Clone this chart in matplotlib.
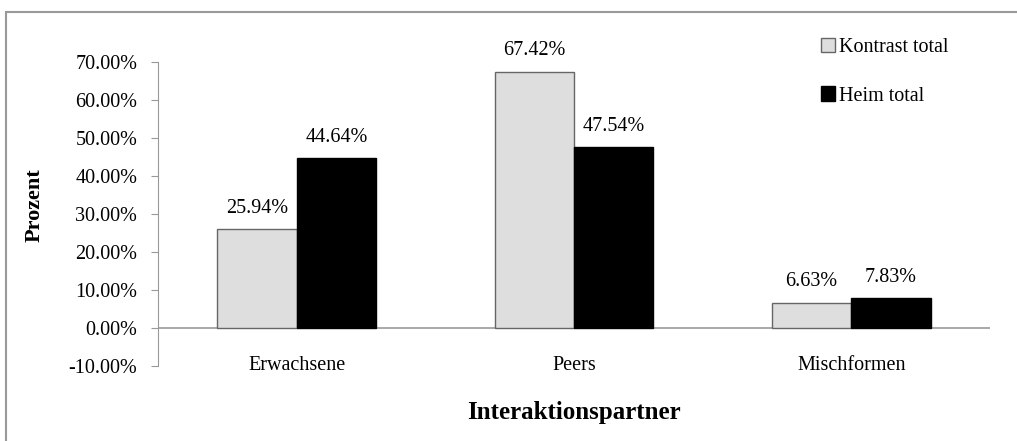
import matplotlib
matplotlib.use("Agg")
import numpy as np
import matplotlib.pyplot as plt
import matplotlib.ticker as mtick
from matplotlib.patches import Rectangle

categories = ["Erwachsene", "Peers", "Mischformen"]
kontrast = [25.94, 67.42, 6.63]
heim = [44.64, 47.54, 7.83]
series_names = ["Kontrast total", "Heim total"]

plt.rcParams['font.family'] = ['Liberation Serif', 'DejaVu Serif']

W, H = 1017, 441
fig = plt.figure(figsize=(W / 100, H / 100), dpi=100)
ax = fig.add_axes([158 / W, 1 - 366 / H, 832 / W, 304 / H])

ind = np.arange(len(categories))
width = 0.286
b1 = ax.bar(ind - width / 2, kontrast, width, color='#dedede', edgecolor='#666666', linewidth=1.0)
b2 = ax.bar(ind + width / 2, heim, width, color='black', edgecolor='black', linewidth=1.0)

for bars, vals in ((b1, kontrast), (b2, heim)):
    for rect, v in zip(bars, vals):
        ax.text(rect.get_x() + rect.get_width() / 2, v + 3.0, "{:.2f}%".format(v),
                ha='center', va='bottom', fontsize=14.5)

ax.set_xlim(-0.5, len(categories) - 0.5)
ax.set_ylim(-10, 70)
ax.set_yticks(np.arange(-10, 71, 10))
ax.yaxis.set_major_formatter(mtick.FuncFormatter(lambda v, p: "{:.2f}%".format(v)))
ax.tick_params(axis='y', length=5, color='#999999', labelsize=14.5, pad=10)

# category names sit level with the -10% tick, like the source sheet
ax.set_xticks([])
for i, cat in enumerate(categories):
    ax.text(i, -10, cat, ha='center', va='center', fontsize=14.5)

for s in ('top', 'right', 'bottom'):
    ax.spines[s].set_visible(False)
ax.spines['left'].set_color('#999999')
ax.axhline(0, color='#999999', linewidth=1.2, zorder=0)

fig.text(35 / W, 1 - 205 / H, "Prozent", rotation=90, ha='center', va='center',
         fontsize=16, fontweight='bold')
fig.text(574 / W, 1 - 413 / H, "Interaktionspartner", ha='center', va='center',
         fontsize=18, fontweight='bold')

ax.legend((b1[0], b2[0]), series_names, loc='upper left', bbox_to_anchor=(803 / W, 1 - 20 / H),
          bbox_transform=fig.transFigure, frameon=False, fontsize=14.5,
          handlelength=0.7, handleheight=0.7, handletextpad=0.2, labelspacing=1.45)

fig.patches.append(Rectangle((6 / W, -0.1), 1.2, 1 - 12 / H + 0.1, transform=fig.transFigure,
                             fill=False, edgecolor='#999999', linewidth=1.5))

fig.savefig("out.png", dpi=100)
